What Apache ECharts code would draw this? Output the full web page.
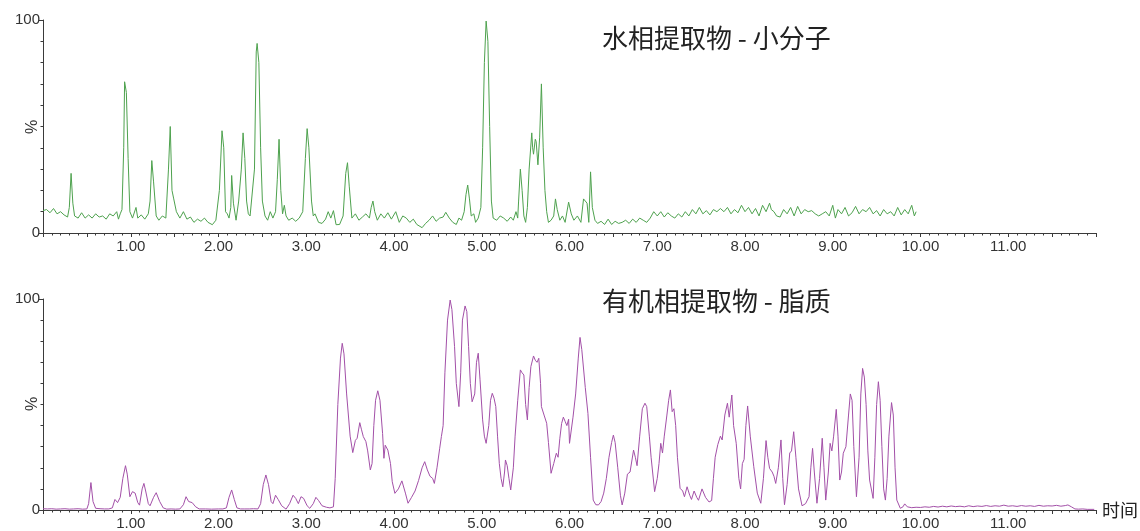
<!DOCTYPE html>
<html>
<head>
<meta charset="utf-8">
<script src="https://cdn.jsdelivr.net/npm/echarts@6/dist/echarts.min.js"></script>
<style>
html,body{margin:0;padding:0;background:#fff;}
#c{width:1140px;height:531px;}
</style>
</head>
<body>
<div id="c"></div>
<script>
const topTitle = '水相提取物 - 小分子';
const bottomTitle = '有机相提取物 - 脂质';
const yAxisName = '%';
const xAxisName = '时间';

// [time (min), relative intensity %]
const aqueousTrace = [
[0.00,10.5],[0.04,11],[0.08,9.5],[0.12,11.5],[0.16,9],[0.20,10],[0.24,8.5],[0.28,7.5],[0.30,12],[0.32,28],[0.34,14],[0.36,8],
[0.40,7],[0.44,9.5],[0.48,7],[0.52,8.5],[0.56,7],[0.60,9],[0.64,7.5],[0.68,8],[0.72,6.5],[0.76,9],[0.80,8],[0.84,10],[0.86,6.5],
[0.88,9],[0.90,11],[0.92,40],[0.93,71],[0.95,66],[0.97,35],[0.99,10],[1.02,7],[1.06,12],[1.08,7],[1.12,8.5],[1.16,6.5],[1.20,9],
[1.22,15],[1.24,34],[1.26,24],[1.29,8],[1.32,6],[1.36,8],[1.40,7],[1.43,30],[1.45,50],[1.47,20],[1.49,16],[1.52,10],[1.56,7],
[1.60,10],[1.64,6.5],[1.68,7.5],[1.72,5],[1.76,6.5],[1.80,5.5],[1.84,7],[1.88,5],[1.93,3.9],[1.97,6],[2.01,20],[2.04,48],[2.06,40],
[2.08,10],[2.10,9],[2.12,7],[2.14,12],[2.15,27],[2.17,14],[2.20,6],[2.23,15],[2.26,30],[2.28,47],[2.30,35],[2.32,15],[2.34,9],
[2.36,8],[2.38,7.5],[2.41,30],[2.43,85],[2.44,89],[2.46,80],[2.48,40],[2.50,15],[2.53,8],[2.56,6],[2.59,10],[2.62,7],[2.65,10],
[2.67,25],[2.69,44],[2.71,20],[2.73,9],[2.75,13],[2.77,8],[2.80,6],[2.84,7],[2.88,5.5],[2.92,7],[2.96,10],[2.99,35],[3.01,49],
[3.03,40],[3.06,15],[3.08,8],[3.10,9],[3.14,5],[3.18,4.5],[3.22,6.5],[3.25,10],[3.28,7],[3.31,10.5],[3.34,3.9],[3.38,4],[3.42,8],
[3.45,28],[3.47,33],[3.49,22],[3.52,7],[3.56,9],[3.60,6],[3.64,7.5],[3.68,9],[3.72,7],[3.74,12],[3.76,15],[3.78,10],[3.81,6],
[3.85,9],[3.89,7],[3.93,9.5],[3.97,6.5],[4.02,10],[4.06,5],[4.10,8],[4.14,7],[4.18,5],[4.22,6.5],[4.26,4],[4.32,2.5],[4.36,4.5],
[4.40,6],[4.44,8],[4.48,5.5],[4.52,7],[4.56,7.5],[4.59,9.7],[4.63,7],[4.67,5],[4.71,4],[4.74,7],[4.77,6],[4.80,10],[4.82,18],
[4.84,22.5],[4.86,16],[4.88,8],[4.91,9],[4.93,5],[4.96,7],[4.99,12],[5.01,40],[5.03,80],[5.05,99.5],[5.07,90],[5.09,50],[5.11,15],
[5.13,7],[5.17,6],[5.21,8],[5.25,7],[5.29,5.5],[5.33,7.5],[5.36,6],[5.39,10],[5.41,7],[5.42,15],[5.44,30],[5.46,20],[5.48,8],
[5.50,5],[5.52,12],[5.54,30],[5.57,47],[5.58,40],[5.59,37],[5.61,44],[5.62,43],[5.64,32],[5.66,45],[5.68,70],[5.70,40],[5.72,20],
[5.74,10],[5.76,5],[5.79,6],[5.82,8],[5.84,16],[5.86,11],[5.89,6],[5.92,8],[5.95,5],[5.99,14.5],[6.02,9],[6.05,6],[6.09,8],
[6.13,5],[6.16,16],[6.18,15],[6.20,14],[6.22,5],[6.24,28.7],[6.26,12],[6.29,6],[6.32,4.5],[6.36,5.5],[6.40,4],[6.44,6.5],[6.48,4],
[6.52,5.5],[6.56,4.5],[6.60,5],[6.64,6],[6.68,4.5],[6.72,6.5],[6.76,5],[6.80,7],[6.84,6],[6.88,5],[6.92,7],[6.96,10],[7.00,8],
[7.04,10],[7.08,7.5],[7.12,9.5],[7.16,8],[7.20,7],[7.24,9],[7.28,7.5],[7.32,10],[7.36,8],[7.40,11],[7.44,9],[7.48,12],[7.52,9],
[7.56,10.5],[7.60,8.5],[7.64,11],[7.68,10],[7.72,11.5],[7.76,10],[7.80,12],[7.84,9],[7.88,11],[7.92,9.5],[7.96,13],[8.00,10],
[8.04,12],[8.08,9],[8.12,11.5],[8.16,8],[8.20,13],[8.24,10],[8.28,14],[8.30,11],[8.33,10],[8.36,8],[8.40,7.5],[8.44,11],[8.48,9],
[8.52,12],[8.56,8],[8.60,12.5],[8.64,9],[8.68,11],[8.72,10],[8.76,10.5],[8.80,9],[8.84,8],[8.88,9],[8.92,10],[8.96,8],[9.00,13],
[9.03,7],[9.06,11],[9.10,9],[9.14,12],[9.18,8],[9.22,9.5],[9.26,12.5],[9.30,9],[9.34,11],[9.38,10],[9.42,12],[9.46,9],[9.50,10.5],
[9.54,8],[9.58,11],[9.62,9],[9.66,10],[9.70,8],[9.74,12],[9.78,8.5],[9.82,11],[9.86,9],[9.90,13],[9.93,8],[9.95,10]
];

const organicTrace = [
[0.00,0.6],[0.05,0.5],[0.10,0.6],[0.15,0.4],[0.20,0.5],[0.25,0.6],[0.30,0.4],[0.35,0.5],[0.40,0.6],[0.45,0.4],[0.50,0.5],[0.52,3],
[0.546,13],[0.57,4],[0.60,0.8],[0.62,1.5],[0.65,0.6],[0.70,0.5],[0.75,0.5],[0.79,1],[0.82,5],[0.85,3.5],[0.88,6],[0.91,15],[0.94,21],
[0.96,17],[0.99,6.3],[1.02,8.7],[1.05,8],[1.08,3.5],[1.10,2.3],[1.13,10],[1.15,12.6],[1.17,9],[1.20,3],[1.22,2],[1.26,6],[1.29,8.2],
[1.33,4],[1.37,1],[1.41,0.4],[1.46,0.5],[1.51,0.4],[1.56,0.5],[1.60,2.5],[1.63,6.3],[1.66,4],[1.70,3.5],[1.74,1.5],[1.78,0.5],
[1.85,0.5],[1.92,0.4],[2.00,0.5],[2.05,0.5],[2.09,1],[2.12,6],[2.15,9.5],[2.18,5],[2.21,1],[2.25,0.5],[2.30,0.5],[2.35,0.5],
[2.40,0.6],[2.45,0.5],[2.48,3],[2.51,12],[2.54,16.6],[2.57,12],[2.60,4],[2.62,3],[2.65,7],[2.68,5],[2.72,2],[2.77,0.4],[2.81,3],
[2.85,7],[2.88,5.5],[2.91,3],[2.94,6.3],[2.97,5.5],[3.01,2],[3.04,0.8],[3.08,3],[3.11,6],[3.14,4.5],[3.18,2],[3.23,1.3],[3.27,1],
[3.31,1.5],[3.33,15],[3.36,50],[3.39,72],[3.41,79],[3.43,74],[3.46,55],[3.50,35],[3.53,27.2],[3.56,33],[3.58,34],[3.61,41.4],
[3.63,38],[3.65,34.8],[3.68,32.4],[3.70,28],[3.73,19],[3.75,22],[3.77,40],[3.79,52],[3.815,56.5],[3.84,52],[3.87,36.3],[3.885,24.5],
[3.90,30.7],[3.93,28.4],[3.96,22],[3.98,13.4],[4.01,7.9],[4.05,10],[4.09,13.8],[4.13,8],[4.16,3.2],[4.20,6],[4.24,9],[4.28,14],
[4.32,20],[4.35,22.9],[4.38,19],[4.41,16],[4.44,15],[4.46,12.6],[4.49,20],[4.52,29],[4.54,34.8],[4.56,40],[4.58,65],[4.61,90],
[4.64,99.5],[4.66,95],[4.69,77.4],[4.71,60],[4.74,49],[4.76,65],[4.78,90],[4.81,96.7],[4.83,94],[4.85,77.4],[4.87,60],[4.89,51.3],
[4.92,55],[4.94,70],[4.96,74.3],[4.98,62],[5.01,42.7],[5.03,35],[5.05,31.6],[5.08,40],[5.10,52],[5.12,55.3],[5.14,53],[5.16,49],
[5.18,35],[5.20,22.1],[5.22,15],[5.24,11],[5.26,18],[5.27,23.7],[5.29,21],[5.31,15],[5.33,9.5],[5.36,20],[5.38,35],[5.41,52],
[5.44,66.4],[5.46,65],[5.48,64],[5.50,50],[5.52,42.7],[5.54,58],[5.56,68],[5.59,73],[5.61,71],[5.63,70],[5.65,71.9],[5.67,60],
[5.68,49],[5.71,45],[5.74,41.1],[5.76,32],[5.79,17.4],[5.82,22],[5.85,26.9],[5.87,25],[5.89,34],[5.91,41],[5.93,44],[5.95,42],
[5.97,40],[5.99,43],[6.00,31.6],[6.04,44],[6.07,55],[6.10,72],[6.12,81.8],[6.14,76],[6.18,58],[6.21,45.8],[6.24,25],[6.27,4.7],
[6.30,2.5],[6.33,2.4],[6.36,4],[6.39,8],[6.42,15],[6.45,25],[6.48,32],[6.50,35.5],[6.52,32],[6.55,20],[6.58,7],[6.60,2.4],[6.63,8],
[6.66,17],[6.69,18],[6.73,28.4],[6.75,25],[6.77,21],[6.80,35],[6.83,48],[6.86,50.6],[6.88,49],[6.91,35],[6.93,25],[6.97,8.7],
[7.00,15],[7.02,22],[7.04,31.6],[7.06,27],[7.08,35],[7.11,45],[7.13,52],[7.15,56.9],[7.17,46.6],[7.19,48],[7.21,40],[7.23,25],
[7.26,10.3],[7.29,9],[7.31,6.3],[7.34,11],[7.37,7],[7.39,5],[7.42,9],[7.45,6],[7.47,4.6],[7.51,10],[7.55,6],[7.59,3.8],[7.62,4.5],
[7.64,15],[7.66,25],[7.69,31],[7.72,35],[7.74,33.2],[7.77,45],[7.80,50.6],[7.82,44],[7.85,54.5],[7.87,40],[7.90,31.6],[7.93,15],
[7.95,10],[7.97,22],[7.99,24],[8.01,40],[8.03,49.3],[8.06,35],[8.10,20.5],[8.14,8],[8.18,3.2],[8.21,15],[8.24,32.9],[8.26,25],
[8.28,19.7],[8.31,18],[8.33,16],[8.35,12.6],[8.38,20],[8.41,33.2],[8.43,15],[8.45,2.5],[8.48,12],[8.51,27],[8.53,28],[8.555,37.1],
[8.58,25],[8.61,10],[8.65,2],[8.69,3],[8.73,6.3],[8.75,20],[8.77,29.2],[8.79,18],[8.82,3.2],[8.85,15],[8.88,34],[8.90,20],[8.92,4.7],
[8.95,18],[8.97,31.6],[8.99,28],[9.01,35],[9.04,47.7],[9.06,35],[9.08,14.2],[9.10,18],[9.12,26.9],[9.15,30],[9.18,45],[9.20,55],
[9.22,52],[9.24,30],[9.27,6.3],[9.30,25],[9.32,55],[9.34,67.1],[9.36,63],[9.38,50],[9.40,28],[9.42,14.2],[9.46,5.5],[9.48,25],
[9.50,50],[9.52,60.8],[9.54,52],[9.56,30],[9.58,10],[9.60,4.7],[9.62,15],[9.64,35],[9.67,50.9],[9.69,45],[9.71,20],[9.73,4.7],
[9.77,0.8],[9.80,1.5],[9.82,2.9],[9.85,1.5],[9.90,1.1],[9.95,1.3],[10.00,1.2],[10.05,1.5],[10.10,1.3],[10.15,1.7],[10.20,1.4],
[10.25,1.8],[10.30,1.5],[10.35,1.9],[10.40,1.6],[10.45,1.8],[10.50,1.5],[10.55,2.0],[10.60,1.6],[10.65,1.9],[10.70,1.7],[10.75,2.1],
[10.80,1.7],[10.85,2.0],[10.90,1.8],[10.95,2.3],[11.00,1.8],[11.05,2.0],[11.10,1.7],[11.15,2.1],[11.20,1.8],[11.25,2.0],[11.30,1.7],
[11.35,2.2],[11.40,1.8],[11.45,2.0],[11.50,1.9],[11.55,2.2],[11.60,1.8],[11.65,2.1],[11.68,2.4],[11.72,1.5],[11.76,0.5],[11.80,0.4],
[11.85,0.5],[11.90,0.3],[11.98,0.3]
];

const xMin = 0, xMax = 12, xInterval = 0.5;
const yMin = 0, yMax = 100;

const axisColor = '#3a3a3a';
const labelColor = '#333';
const font = 'Liberation Sans, Arial, sans-serif';
const cjk = '"Noto Sans CJK SC", sans-serif';

function xAxisCfg(idx, withName) {
  return {
    type: 'value', gridIndex: idx, min: xMin, max: xMax, interval: xInterval,
    axisLine: { show: true, onZero: false, lineStyle: { color: axisColor, width: 1 } },
    axisTick: { show: true, inside: false, length: 4, lineStyle: { color: axisColor } },
    minorTick: { show: true, splitNumber: 5, length: 2.5, lineStyle: { color: axisColor } },
    splitLine: { show: false }, minorSplitLine: { show: false },
    axisLabel: {
      color: labelColor, fontFamily: font, fontSize: 15, margin: 6,
      formatter: function (v) {
        if (v <= xMin || v >= xMax) return '';
        if (Math.abs(v - Math.round(v)) > 1e-6) return '';
        return v.toFixed(2);
      }
    },
    name: withName ? xAxisName : '',
    nameLocation: 'end', nameGap: 6,
    nameTextStyle: { color: '#222', fontFamily: cjk, fontSize: 18, verticalAlign: 'middle' }
  };
}
function yAxisCfg(idx) {
  return {
    type: 'value', gridIndex: idx, min: yMin, max: yMax, interval: 100,
    axisLine: { show: true, lineStyle: { color: axisColor, width: 1 } },
    axisTick: { show: true, length: 4, lineStyle: { color: axisColor } },
    minorTick: { show: true, splitNumber: 10, length: 2.5, lineStyle: { color: axisColor } },
    splitLine: { show: false },
    axisLabel: { color: labelColor, fontFamily: font, fontSize: 15, margin: 3 }
  };
}
function pctLabel(y) {
  return {
    type: 'text', x: 33, y: y, rotation: Math.PI / 2,
    style: { text: yAxisName, fill: '#333', font: '16px Liberation Sans, Arial, sans-serif',
             textAlign: 'center', textVerticalAlign: 'middle' }
  };
}

const chart = echarts.init(document.getElementById('c'), null, { renderer: 'canvas' });
chart.setOption({
  animation: false,
  backgroundColor: '#fff',
  title: [
    { text: topTitle, left: 597, top: 20, textStyle: { fontFamily: cjk, fontSize: 26, fontWeight: 'normal', color: '#222' } },
    { text: bottomTitle, left: 597, top: 283, textStyle: { fontFamily: cjk, fontSize: 26, fontWeight: 'normal', color: '#222' } }
  ],
  graphic: [pctLabel(127), pctLabel(404)],
  grid: [
    { left: 43, right: 44, top: 20, height: 213, containLabel: false, outerBoundsMode: 'none' },
    { left: 43, right: 44, top: 299, height: 211, containLabel: false, outerBoundsMode: 'none' }
  ],
  xAxis: [xAxisCfg(0, false), xAxisCfg(1, true)],
  yAxis: [yAxisCfg(0), yAxisCfg(1)],
  series: [
    { type: 'line', xAxisIndex: 0, yAxisIndex: 0, data: aqueousTrace, showSymbol: false, symbol: 'none',
      lineStyle: { color: '#4ea24e', width: 1 }, clip: false },
    { type: 'line', xAxisIndex: 1, yAxisIndex: 1, data: organicTrace, showSymbol: false, symbol: 'none',
      lineStyle: { color: '#a350a8', width: 1 }, clip: false }
  ]
});
</script>
</body>
</html>
